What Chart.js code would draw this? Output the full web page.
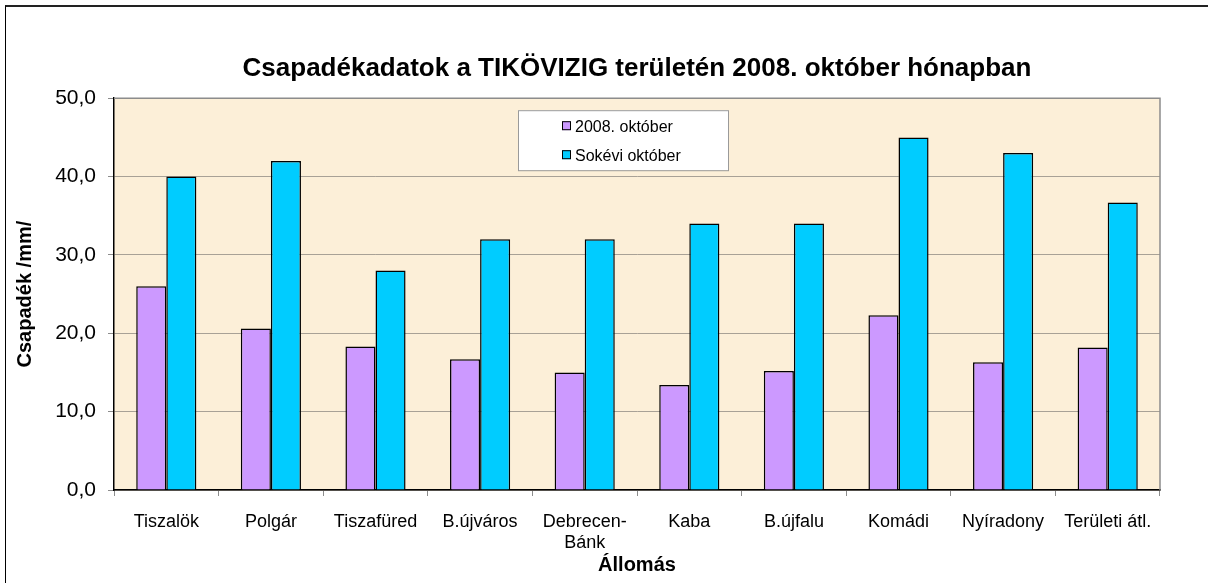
<!DOCTYPE html>
<html>
<head>
<meta charset="utf-8">
<script src="https://cdn.jsdelivr.net/npm/chart.js@4"></script>
<style>
  html, body { margin: 0; padding: 0; background: #fff; overflow: hidden; }
  #wrap { position: relative; width: 1208px; height: 583px; }
  #frame { position: absolute; left: 5px; top: 5px; width: 1400px; height: 800px;
           border-top: 2px solid #222; border-left: 1px solid #000; pointer-events: none; }
  canvas { position: absolute; left: 0; top: 0; }
</style>
</head>
<body>
<div id="wrap">
  <canvas id="rain" width="1208" height="583"></canvas>
  <div id="frame"></div>
</div>
<script>
const stations = ['Tiszalök', 'Polgár', 'Tiszafüred', 'B.újváros', ['Debrecen-', 'Bánk'], 'Kaba', 'B.újfalu', 'Komádi', 'Nyíradony', 'Területi átl.'];
const oct2008 = [26.0, 20.6, 18.3, 16.7, 15.0, 13.4, 15.2, 22.3, 16.3, 18.2];
const octLongTerm = [40.0, 42.0, 28.0, 32.0, 32.0, 34.0, 34.0, 45.0, 43.0, 36.7];
const seriesNames = ['2008. október', 'Sokévi október'];
const yMin = 0, yMax = 50, yStep = 10;

const FONT = 'Liberation Sans, Arial, sans-serif';

// plot background + gray top/right border, like the excel chart
const plotArea = {
  id: 'plotArea',
  afterLayout(chart) {
    // center the title over the plot, not the whole canvas
    const t = chart.titleBlock;
    if (t) {
      t.left = chart.chartArea.left;
      t.right = chart.chartArea.right;
      t.width = t.right - t.left;
    }
  },
  beforeDatasetsDraw(chart) {
    const { ctx, chartArea: a } = chart;
    ctx.save();
    ctx.strokeStyle = '#8c8c8c';
    ctx.lineWidth = 1.5;
    ctx.beginPath();
    ctx.moveTo(a.left, a.top);
    ctx.lineTo(a.right, a.top);
    ctx.lineTo(a.right, a.bottom);
    ctx.stroke();
    ctx.restore();
  },
  beforeDraw(chart) {
    const { ctx, chartArea: a } = chart;
    ctx.save();
    ctx.fillStyle = '#fcefd8';
    ctx.fillRect(a.left, a.top, a.right - a.left, a.bottom - a.top);
    ctx.restore();
  }
};

// boxed legend sitting inside the plot
const boxLegend = {
  id: 'boxLegend',
  afterDraw(chart) {
    const { ctx, chartArea: a } = chart;
    const x = a.left + 404, y = a.top + 12, w = 210, h = 60;
    ctx.save();
    ctx.fillStyle = '#fff';
    ctx.fillRect(x, y, w, h);
    ctx.strokeStyle = '#9a9a9a';
    ctx.lineWidth = 1;
    ctx.strokeRect(x + 0.5, y + 0.5, w, h);
    ctx.font = '16px ' + FONT;
    ctx.textBaseline = 'middle';
    chart.data.datasets.forEach((ds, i) => {
      const cy = y + 16 + i * 29;
      ctx.fillStyle = ds.backgroundColor;
      ctx.fillRect(x + 44, cy - 5, 9, 9);
      ctx.strokeStyle = '#000';
      ctx.strokeRect(x + 44.5, cy - 4.5, 8, 8);
      ctx.fillStyle = '#000';
      ctx.fillText(ds.label, x + 57, cy + 1);
    });
    ctx.restore();
  }
};

new Chart(document.getElementById('rain'), {
  type: 'bar',
  data: {
    labels: stations,
    datasets: [
      {
        label: seriesNames[0],
        data: oct2008,
        backgroundColor: '#cc99ff',
        borderColor: '#000',
        borderWidth: 1.5
      },
      {
        label: seriesNames[1],
        data: octLongTerm,
        backgroundColor: '#00ccff',
        borderColor: '#000',
        borderWidth: 1.5
      }
    ]
  },
  options: {
    responsive: false,
    animation: false,
    categoryPercentage: 0.575,
    barPercentage: 1.0,
    layout: { padding: { left: 0, right: 48, top: 0, bottom: 0 } },
    plugins: {
      legend: { display: false },
      tooltip: { enabled: false },
      title: {
        display: true,
        text: 'Csapadékadatok a TIKÖVIZIG területén 2008. október hónapban',
        color: '#000',
        font: { family: FONT, size: 26, weight: 'bold' },
        padding: { top: 53, bottom: 14 }
      }
    },
    scales: {
      x: {
        afterFit: scale => { scale.height = 93; },
        grid: { offset: true, drawOnChartArea: false, drawTicks: true, tickLength: 6, tickColor: '#8c8c8c' },
        border: { color: '#000', width: 1.5 },
        ticks: {
          color: '#000',
          font: { family: FONT, size: 18, lineHeight: 1.2 },
          maxRotation: 0,
          autoSkip: false,
          padding: 15
        },
        title: {
          display: true,
          text: 'Állomás',
          color: '#000',
          font: { family: FONT, size: 20, weight: 'bold' },
          padding: { top: 0, bottom: 6 }
        }
      },
      y: {
        min: yMin,
        max: yMax,
        afterFit: scale => { scale.width = 114; },
        grid: { color: '#a8a196', lineWidth: 1, drawTicks: true, tickLength: 6, tickColor: '#8c8c8c' },
        border: { color: '#000', width: 1.5 },
        ticks: {
          stepSize: yStep,
          color: '#000',
          padding: 12,
          font: { family: FONT, size: 21 },
          callback: v => v.toFixed(1).replace('.', ',')
        },
        title: {
          display: true,
          text: 'Csapadék /mm/',
          color: '#000',
          font: { family: FONT, size: 20, weight: 'bold' },
          padding: { top: 13, bottom: 0 }
        }
      }
    }
  },
  plugins: [plotArea, boxLegend]
});
</script>
</body>
</html>
